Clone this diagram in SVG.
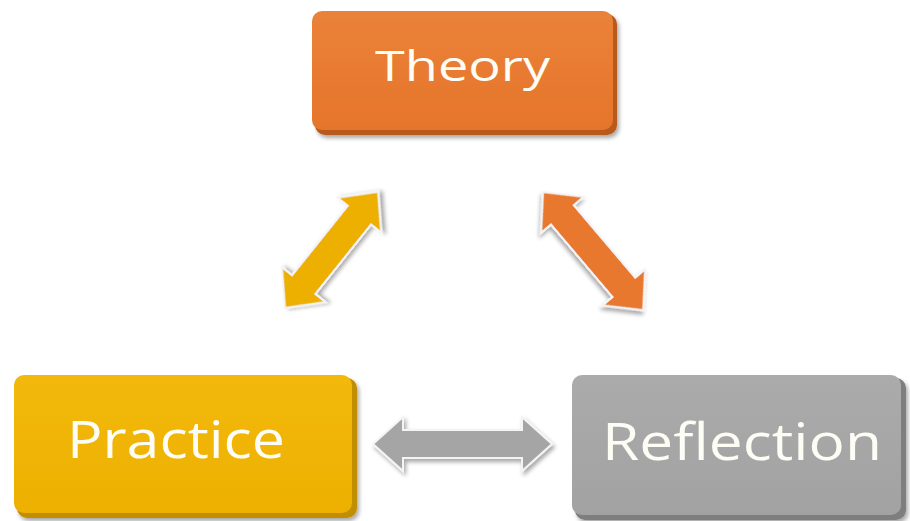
<svg xmlns="http://www.w3.org/2000/svg" width="910" height="521" viewBox="0 0 910 521">
<defs>
<filter id="sh" x="-10%" y="-10%" width="130%" height="130%">
<feGaussianBlur in="SourceAlpha" stdDeviation="2"/>
<feOffset dx="2" dy="3" result="b"/>
<feComponentTransfer><feFuncA type="linear" slope="0.35"/></feComponentTransfer>
<feMerge><feMergeNode/><feMergeNode in="SourceGraphic"/></feMerge>
</filter>
<linearGradient id="gO" x1="0" y1="0" x2="0" y2="1"><stop offset="0" stop-color="#EB8239"/><stop offset="1" stop-color="#E5752A"/></linearGradient>
<linearGradient id="gY" x1="0" y1="0" x2="0" y2="1"><stop offset="0" stop-color="#F2B90C"/><stop offset="1" stop-color="#EDB000"/></linearGradient>
<linearGradient id="gG" x1="0" y1="0" x2="0" y2="1"><stop offset="0" stop-color="#ABABAB"/><stop offset="1" stop-color="#A2A2A2"/></linearGradient>
</defs>
<style>
.lbl{font-family:"Open Sans","Noto Sans","Liberation Sans",sans-serif;fill:#FDFDF5;text-anchor:start}
.arr{stroke:#F4F4F4;stroke-width:2;stroke-linejoin:miter;filter:url(#sh)}
</style>
<rect width="910" height="521" fill="#FFFFFF"/>
<g id="theory">
<rect x="315" y="14" width="302" height="121" rx="10" fill="#B85A1C" filter="url(#sh)"/>
<rect x="312" y="11" width="301" height="119" rx="10" fill="url(#gO)"/>
<text class="lbl" x="375" y="81" font-size="42" textLength="175" lengthAdjust="spacingAndGlyphs">Theory</text>
</g>
<g id="practice">
<rect x="17" y="378" width="340" height="140" rx="10" fill="#C08E00" filter="url(#sh)"/>
<rect x="14" y="375" width="338" height="138" rx="10" fill="url(#gY)"/>
<text class="lbl" x="67" y="458" font-size="51" textLength="218" lengthAdjust="spacingAndGlyphs">Practice</text>
</g>
<g id="reflection">
<rect x="575" y="378" width="331" height="142" rx="10" fill="#7E7E7E" filter="url(#sh)"/>
<rect x="572" y="375" width="329" height="140" rx="10" fill="url(#gG)"/>
<text class="lbl" x="602" y="460" font-size="52" textLength="280" lengthAdjust="spacingAndGlyphs">Reflection</text>
</g>
<g id="connectors">
<polygon class="arr" fill="#A5A5A5" transform="translate(373,444)" points="0,0 30,-27 30,-14 149,-14 149,-27 179,0 149,27 149,14 30,14 30,27"/>
<polygon class="arr" fill="#EDB000" transform="translate(285,308) rotate(-51.3)" points="0,0 30,-28 30,-15 119,-15 119,-28 149,0 119,28 119,15 30,15 30,28"/>
<polygon class="arr" fill="#E8782E" transform="translate(543,192) rotate(49.7)" points="0,0 30,-28 30,-15 125,-15 125,-28 155,0 125,28 125,15 30,15 30,28"/>
</g>
</svg>
